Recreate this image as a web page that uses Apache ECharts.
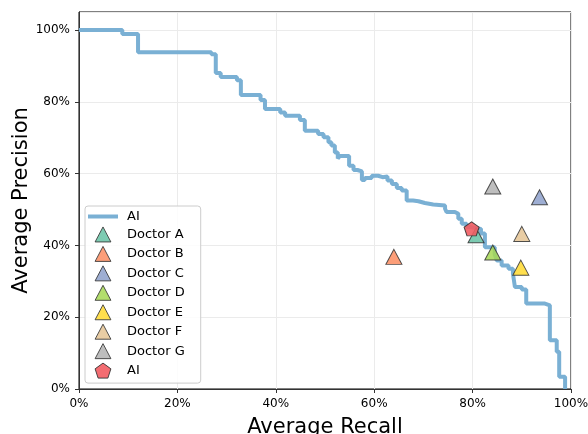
<!DOCTYPE html>
<html>
<head>
<meta charset="utf-8">
<script src="https://cdn.jsdelivr.net/npm/echarts@6/dist/echarts.min.js"></script>
<style>
html,body{margin:0;padding:0;background:#fff;}
#chart{width:588px;height:434px;}
</style>
</head>
<body>
<div id="chart"></div>
<script>
// PR curve of the AI (recall %, precision %), staircase corners
const curveRecall = [0, 8.8, 12.0, 26.9, 27.8, 28.8, 32.1, 32.9, 36.9, 37.8, 40.9, 41.9, 44.9, 45.9, 48.6, 49.7, 50.7, 51.3, 52.0, 52.6, 53.0, 54.9, 55.8, 56.6, 57.5, 58.1, 59.5, 60.8, 61.7, 62.7, 63.6, 64.6, 65.6, 66.6, 67.9, 69.0, 70.3, 72.0, 74.4, 74.7, 76.4, 77.1, 77.8, 78.8, 79.5, 80.7, 81.7, 82.5, 84.5, 84.9, 85.9, 87.3, 88.2, 88.6, 90.0, 90.9, 94.7, 95.7, 97.1, 97.6, 98.8];
const curvePrecision = [100, 98.9, 93.8, 93.2, 88.0, 86.9, 86.0, 81.9, 80.5, 78.0, 77.0, 76.1, 74.9, 71.9, 71.0, 70.1, 68.7, 67.8, 65.9, 64.2, 64.9, 62.2, 61.0, 60.6, 58.2, 58.8, 59.4, 59.0, 59.2, 58.1, 57.1, 56.0, 55.3, 52.5, 52.3, 51.8, 51.4, 51.1, 50.2, 49.3, 48.8, 47.4, 46.0, 45.1, 44.8, 44.6, 43.3, 39.5, 37.5, 35.8, 34.4, 33.5, 32.1, 28.4, 27.7, 23.8, 23.3, 13.6, 10.4, 3.4, 0];

const doctorNames = ['Doctor A', 'Doctor B', 'Doctor C', 'Doctor D', 'Doctor E', 'Doctor F', 'Doctor G'];
const doctorRecall = [80.7, 64.0, 93.6, 84.1, 89.8, 90.0, 84.1];
const doctorPrecision = [42.8, 36.8, 53.4, 38.0, 33.8, 43.2, 56.4];
const doctorColors = ['#66c2a5', '#fc8d62', '#8da0cb', '#a6d854', '#ffd92f', '#e5c494', '#b3b3b3'];

const aiRecall = [79.8];
const aiPrecision = [44.6];

const xTicks = [0, 20, 40, 60, 80, 100];
const yTicks = [0, 20, 40, 60, 80, 100];

const pentagon = 'path://M0,-1 L0.951,-0.309 L0.588,0.809 L-0.588,0.809 L-0.951,-0.309 Z';
const triangle = 'path://M0,-1 L1,0.9 L-1,0.9 Z';
const lineIcon = 'path://M0,0 L30,0 L30,4 L0,4 Z';

const series = [];
series.push({
  name: 'AI',
  type: 'line',
  step: 'end',
  symbol: 'none',
  data: curveRecall.map((r, i) => [r, curvePrecision[i]]),
  lineStyle: { color: '#7ab0d4', width: 4 },
  itemStyle: { color: '#7ab0d4' },
  z: 2
});
doctorNames.forEach((n, i) => {
  series.push({
    name: n,
    type: 'scatter',
    symbol: 'triangle',
    symbolSize: [16, 15],
    data: [[doctorRecall[i], doctorPrecision[i]]],
    itemStyle: { color: doctorColors[i], opacity: 0.85, borderColor: '#333', borderWidth: 1 },
    z: 3
  });
});
series.push({
  name: 'AI ',
  type: 'scatter',
  symbol: pentagon,
  symbolSize: [15, 14],
  data: aiRecall.map((r, i) => [r, aiPrecision[i]]),
  itemStyle: { color: '#f25c62', opacity: 0.9, borderColor: '#333', borderWidth: 1 },
  z: 4
});

const legendData = [{ name: 'AI', icon: lineIcon, itemStyle: { color: '#7ab0d4', borderWidth: 0 } }]
  .concat(doctorNames.map(n => ({ name: n, icon: triangle, itemStyle: { borderWidth: 1, borderColor: '#333' } })))
  .concat([{ name: 'AI ', icon: pentagon, itemStyle: { borderWidth: 1, borderColor: '#333' } }]);

const chart = echarts.init(document.getElementById('chart'));
chart.setOption({
  animation: false,
  textStyle: { fontFamily: 'DejaVu Sans' },
  grid: { left: 79, right: 17, top: 12, bottom: 45, show: true, borderColor: '#000', borderWidth: 1,
          containLabel: false, outerBoundsMode: 'none' },
  xAxis: {
    type: 'value', min: 0, max: 100, interval: 20,
    name: 'Average Recall', nameLocation: 'middle', nameGap: 28, nameMoveOverlap: false,
    nameTextStyle: { fontSize: 21, color: '#000', fontFamily: 'DejaVu Sans' },
    axisLine: { show: true, lineStyle: { color: '#333', width: 1 } },
    axisTick: { show: true, length: 4, lineStyle: { color: '#333' } },
    axisLabel: { fontSize: 12, color: '#000', margin: 9, formatter: v => xTicks.includes(v) ? v + '%' : '' },
    splitLine: { show: true, lineStyle: { color: '#ebebeb', width: 1 } }
  },
  yAxis: {
    type: 'value', min: 0, max: 105, interval: 20,
    name: 'Average Precision', nameLocation: 'middle', nameGap: 47, nameRotate: 90, nameMoveOverlap: false,
    nameTextStyle: { fontSize: 21, color: '#000', fontFamily: 'DejaVu Sans' },
    axisLine: { show: true, lineStyle: { color: '#333', width: 1 } },
    axisTick: { show: true, length: 4, lineStyle: { color: '#333' } },
    axisLabel: { fontSize: 12, color: '#000', margin: 9, showMaxLabel: false, formatter: v => yTicks.includes(v) ? v + '%' : '' },
    splitLine: { show: true, lineStyle: { color: '#ebebeb', width: 1 } }
  },
  legend: {
    orient: 'vertical',
    left: 85, top: 206,
    padding: [4, 16, 4.5, 3],
    itemWidth: 30, itemHeight: 15, itemGap: 3.45,
    symbolKeepAspect: true,
    backgroundColor: 'rgba(255,255,255,0.85)',
    borderColor: '#cccccc', borderWidth: 1, borderRadius: 3,
    textStyle: { fontSize: 13, color: '#000', fontFamily: 'DejaVu Sans', padding: [0, 0, 0, 4] },
    formatter: n => n.trim(),
    data: legendData
  },
  series: series
});
</script>
</body>
</html>
